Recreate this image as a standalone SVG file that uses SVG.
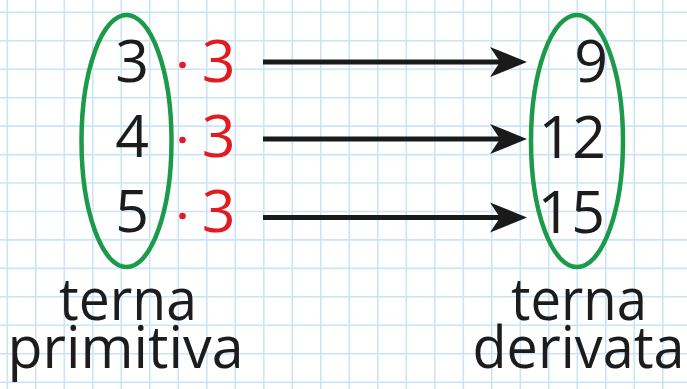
<svg xmlns="http://www.w3.org/2000/svg" width="687" height="389" viewBox="0 0 687 389">
<style>
.grid line{stroke:#cbe4f6;stroke-width:1.6}
.ell{fill:none;stroke:#1b9b4a;stroke-width:4.5}
.num{font-family:"Open Sans","Noto Sans",sans-serif;font-size:59px;fill:#1c1c1c}
.red{font-family:"Open Sans","Noto Sans",sans-serif;font-size:59px;fill:#e11b22}
.lbl{font-family:"Open Sans","Noto Sans",sans-serif;font-size:58px;fill:#1c1c1c;text-anchor:middle}
.arr{stroke:#1a1a1a;stroke-width:5;fill:none}
</style>
<defs>
<marker id="ah" markerUnits="userSpaceOnUse" markerWidth="40" markerHeight="32" refX="15" refY="15" orient="auto" overflow="visible">
<path d="M37 15 L0 0 L10 15 L0 30 Z" fill="#1a1a1a"/>
</marker>
</defs>
<rect width="687" height="389" fill="#ffffff"/>
<g class="grid">
<line x1="7.3" y1="0" x2="7.3" y2="389"/><line x1="35.8" y1="0" x2="35.8" y2="389"/><line x1="64.3" y1="0" x2="64.3" y2="389"/><line x1="92.8" y1="0" x2="92.8" y2="389"/><line x1="121.3" y1="0" x2="121.3" y2="389"/><line x1="149.8" y1="0" x2="149.8" y2="389"/><line x1="178.3" y1="0" x2="178.3" y2="389"/><line x1="206.8" y1="0" x2="206.8" y2="389"/><line x1="235.3" y1="0" x2="235.3" y2="389"/><line x1="263.8" y1="0" x2="263.8" y2="389"/><line x1="292.3" y1="0" x2="292.3" y2="389"/><line x1="320.8" y1="0" x2="320.8" y2="389"/><line x1="349.3" y1="0" x2="349.3" y2="389"/><line x1="377.8" y1="0" x2="377.8" y2="389"/><line x1="406.3" y1="0" x2="406.3" y2="389"/><line x1="434.8" y1="0" x2="434.8" y2="389"/><line x1="463.3" y1="0" x2="463.3" y2="389"/><line x1="491.8" y1="0" x2="491.8" y2="389"/><line x1="520.3" y1="0" x2="520.3" y2="389"/><line x1="548.8" y1="0" x2="548.8" y2="389"/><line x1="577.3" y1="0" x2="577.3" y2="389"/><line x1="605.8" y1="0" x2="605.8" y2="389"/><line x1="634.3" y1="0" x2="634.3" y2="389"/><line x1="662.8" y1="0" x2="662.8" y2="389"/>
<line x1="0" y1="12.3" x2="687" y2="12.3"/><line x1="0" y1="40.8" x2="687" y2="40.8"/><line x1="0" y1="69.2" x2="687" y2="69.2"/><line x1="0" y1="97.7" x2="687" y2="97.7"/><line x1="0" y1="126.1" x2="687" y2="126.1"/><line x1="0" y1="154.6" x2="687" y2="154.6"/><line x1="0" y1="183" x2="687" y2="183"/><line x1="0" y1="211.5" x2="687" y2="211.5"/><line x1="0" y1="239.9" x2="687" y2="239.9"/><line x1="0" y1="268.4" x2="687" y2="268.4"/><line x1="0" y1="296.8" x2="687" y2="296.8"/><line x1="0" y1="325.3" x2="687" y2="325.3"/><line x1="0" y1="353.7" x2="687" y2="353.7"/><line x1="0" y1="382.2" x2="687" y2="382.2"/>
</g>
<g id="terna-primitiva">
<ellipse class="ell" cx="126.5" cy="141" rx="45" ry="126"/>
<text class="num" x="132" y="82" text-anchor="middle">3</text>
<text class="num" x="132" y="157" text-anchor="middle">4</text>
<text class="num" x="132" y="232" text-anchor="middle">5</text>
<text class="lbl" x="128" y="320" textLength="138" lengthAdjust="spacingAndGlyphs">terna</text>
<text class="lbl" x="125.5" y="368" textLength="236" lengthAdjust="spacingAndGlyphs">primitiva</text>
</g>
<g id="fattori">
<circle cx="182.5" cy="65" r="3.3" fill="#e11b22"/>
<circle cx="182.5" cy="140" r="3.3" fill="#e11b22"/>
<circle cx="182.5" cy="216" r="3.3" fill="#e11b22"/>
<text class="red" x="218.5" y="82" text-anchor="middle">3</text>
<text class="red" x="218.5" y="157" text-anchor="middle">3</text>
<text class="red" x="218.5" y="232" text-anchor="middle">3</text>
</g>
<g id="terna-derivata">
<ellipse class="ell" cx="577" cy="141" rx="46" ry="126"/>
<text class="num" x="608" y="82" text-anchor="end">9</text>
<text class="num" x="606" y="158" text-anchor="end">12</text>
<text class="num" x="605" y="233" text-anchor="end">15</text>
<text class="lbl" x="579" y="320" textLength="136" lengthAdjust="spacingAndGlyphs">terna</text>
<text class="lbl" x="578.5" y="368" textLength="212" lengthAdjust="spacingAndGlyphs">derivata</text>
</g>
<g id="connectors">
<line class="arr" x1="263" y1="62" x2="505" y2="62" marker-end="url(#ah)"/>
<line class="arr" x1="263" y1="139" x2="505" y2="139" marker-end="url(#ah)"/>
<line class="arr" x1="263" y1="217.5" x2="505" y2="217.5" marker-end="url(#ah)"/>
</g>
</svg>
